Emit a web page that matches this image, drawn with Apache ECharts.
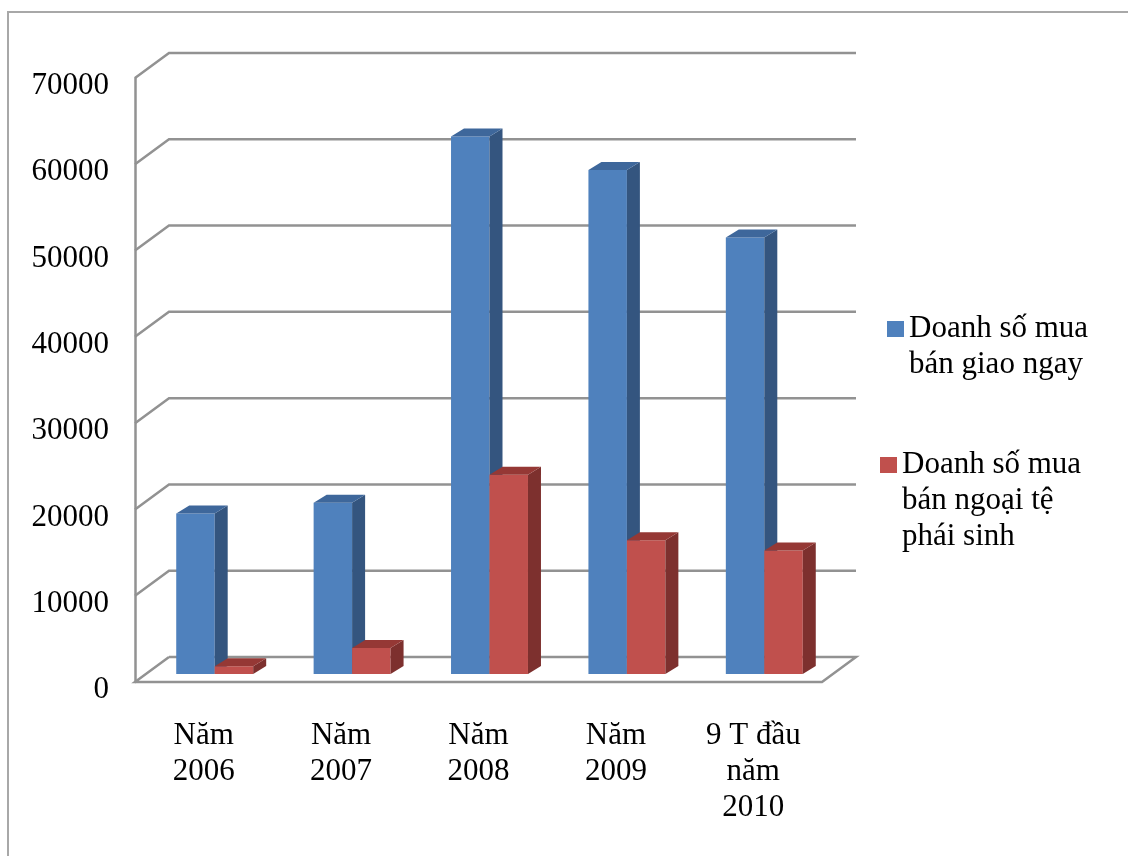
<!DOCTYPE html>
<html>
<head>
<meta charset="utf-8">
<script src="https://cdn.jsdelivr.net/npm/echarts@6/dist/echarts.min.js"></script>
<style>
  html, body { margin: 0; padding: 0; background: #fff; }
  #chart { width: 1128px; height: 856px; }
</style>
</head>
<body>
<div id="chart"></div>
<script>
// du lieu doc tu bieu do
var categories = ['Năm\n2006', 'Năm\n2007', 'Năm\n2008', 'Năm\n2009', '9 T đầu\nnăm\n2010'];
var giaoNgay = [18600, 19850, 62300, 58400, 50600];
var phaiSinh = [900, 3000, 23100, 15500, 14300];
var gridValues = [0, 10000, 20000, 30000, 40000, 50000, 60000, 70000];
var seriesNames = ['Doanh số mua\nbán giao ngay', 'Doanh số mua\nbán ngoại tệ\nphái sinh'];

var FONT = '"Liberation Serif", "Times New Roman", serif';
// do sau cua tuong 3D va cua cot
var DX = 34, DY = -25;
var BX = 11, BY = -8;
var SX = 13, SY = -8;

var myChart = echarts.init(document.getElementById('chart'));

function barRender(side, colors) {
    return function (params, api) {
        var i = api.value(0);
        var p = api.coord([i, api.value(1)]);
        var p0 = api.coord([i, 0]);
        var w = api.size([1, 0])[0] * 0.28;
        var x = side === 0 ? p[0] + BX - w : p[0] + BX;
        var yt = p[1] + BY, yb = p0[1] + BY;
        return {
            type: 'group',
            children: [
                { type: 'rect', shape: { x: x, y: yt, width: w, height: yb - yt }, style: { fill: colors[0] } },
                { type: 'polygon', shape: { points: [[x + w, yt], [x + w + SX, yt + SY], [x + w + SX, yb + SY], [x + w, yb]] }, style: { fill: colors[1] } },
                { type: 'polygon', shape: { points: [[x, yt], [x + w, yt], [x + w + SX, yt + SY], [x + SX, yt + SY]] }, style: { fill: colors[2] } }
            ]
        };
    };
}

function wallRender(params, api) {
    var cs = params.coordSys;
    var y = api.coord([0, api.value(0)])[1];
    var x0 = cs.x, x1 = cs.x + cs.width;
    var pts = [[x0, y], [x0 + DX, y + DY], [x1 + DX, y + DY]];
    if (api.value(0) === 0) {
        pts = [[x0 + DX, y + DY], [x0, y], [x1, y], [x1 + DX, y + DY], [x0 + DX, y + DY]];
    }
    return {
        type: 'polyline',
        shape: { points: pts },
        style: { stroke: '#929292', lineWidth: 2.5, fill: null }
    };
}

var legendText = { fontFamily: FONT, fontSize: 31, lineHeight: 36, color: '#000' };

var option = {
    animation: false,
    textStyle: { fontFamily: FONT },
    graphic: [{
        type: 'polyline',
        shape: { points: [[8, 856], [8, 12], [1128, 12]] },
        style: { stroke: '#a8a8a8', lineWidth: 2, fill: null }
    }],
    grid: { left: 135, right: 306, top: 78, bottom: 174 },
    legend: [{
        left: 887, top: 275, padding: 0,
        icon: 'rect', itemWidth: 17, itemHeight: 16,
        data: [seriesNames[0]],
        // dong trong phia tren de o vuong ngang dong dau
        formatter: function (name) { return '\n' + name; },
        textStyle: legendText
    }, {
        left: 880, top: 375, padding: 0,
        icon: 'rect', itemWidth: 17, itemHeight: 16,
        data: [seriesNames[1]],
        formatter: function (name) { return '\n\n' + name; },
        textStyle: legendText
    }],
    xAxis: {
        type: 'category',
        data: categories,
        axisLine: { show: false },
        axisTick: { show: false },
        axisLabel: { margin: 36, fontFamily: FONT, fontSize: 31, lineHeight: 36, color: '#000' }
    },
    yAxis: {
        type: 'value',
        min: 0, max: 70000, interval: 10000,
        axisLine: { show: true, lineStyle: { color: '#929292', width: 2.5 } },
        axisTick: { show: false },
        splitLine: { show: false },
        axisLabel: {
            margin: 26, fontFamily: FONT, fontSize: 31, color: '#000',
            verticalAlign: 'top', lineHeight: 16,
            formatter: function (v) { return String(v); }
        }
    },
    series: [{
        type: 'custom',
        name: 'wall',
        silent: true,
        coordinateSystem: 'cartesian2d',
        renderItem: wallRender,
        encode: { y: 0 },
        data: gridValues.map(function (v) { return [v]; }),
        z: 1
    }, {
        type: 'custom',
        name: seriesNames[0],
        coordinateSystem: 'cartesian2d',
        renderItem: barRender(0, ['#4f81bd', '#34557f', '#3e679b']),
        encode: { x: 0, y: 1 },
        itemStyle: { color: '#4f81bd' },
        data: giaoNgay.map(function (v, i) { return [i, v]; }),
        z: 2
    }, {
        type: 'custom',
        name: seriesNames[1],
        coordinateSystem: 'cartesian2d',
        renderItem: barRender(1, ['#c0504d', '#7d302e', '#953835']),
        encode: { x: 0, y: 1 },
        itemStyle: { color: '#c0504d' },
        data: phaiSinh.map(function (v, i) { return [i, v]; }),
        z: 3
    }]
};

myChart.setOption(option);
window.onresize = function () {
    myChart.resize();
};
</script>
</body>
</html>
